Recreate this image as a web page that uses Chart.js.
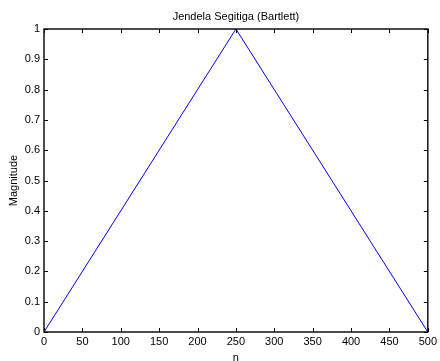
<!DOCTYPE html>
<html>
<head>
<meta charset="utf-8">
<script src="https://cdn.jsdelivr.net/npm/chart.js@4.4.1/dist/chart.umd.min.js"></script>
<style>
    html, body { margin: 0; padding: 0; background: #fff; }
    #wrap { width: 440px; height: 361px; position: relative; }
</style>
</head>
<body>
<div id="wrap"><canvas id="chart"></canvas></div>
<script>
// Bartlett (triangular) window, corners of the triangle
const nValues = [0, 250, 500];
const magnitude = [0, 1, 0];

const xTicks = [0, 50, 100, 150, 200, 250, 300, 350, 400, 450, 500];
const yTicks = [0, 0.1, 0.2, 0.3, 0.4, 0.5, 0.6, 0.7, 0.8, 0.9, 1];

const titleText = 'Jendela Segitiga (Bartlett)';
const xLabel = 'n';
const yLabel = 'Magnitude';

const fontFamily = "Arial, 'Liberation Sans', Helvetica, sans-serif";
Chart.defaults.color = '#000';
Chart.defaults.font.family = fontFamily;
Chart.defaults.font.size = 11;

// matlab style box with inward ticks
const boxTicks = {
    id: 'boxTicks',
    afterDatasetsDraw(chart) {
        const ctx = chart.ctx;
        const ca = chart.chartArea;
        const xs = chart.scales.x;
        const ys = chart.scales.y;
        const len = 4;
        ctx.save();
        ctx.strokeStyle = '#000';
        ctx.lineWidth = 1;
        ctx.beginPath();
        xTicks.forEach(v => {
            const px = Math.round(xs.getPixelForValue(v)) + 0.5;
            ctx.moveTo(px, ca.bottom);
            ctx.lineTo(px, ca.bottom - len);
            ctx.moveTo(px, ca.top);
            ctx.lineTo(px, ca.top + len);
        });
        yTicks.forEach(v => {
            const py = Math.round(ys.getPixelForValue(v)) + 0.5;
            ctx.moveTo(ca.left, py);
            ctx.lineTo(ca.left + len, py);
            ctx.moveTo(ca.right, py);
            ctx.lineTo(ca.right - len, py);
        });
        ctx.stroke();
        ctx.lineWidth = 1.4;
        ctx.strokeRect(ca.left, ca.top, ca.right - ca.left, ca.bottom - ca.top);
        ctx.restore();
    }
};

const chart = new Chart(document.getElementById('chart').getContext('2d'), {
    type: 'scatter',
    data: {
        datasets: [{
            data: nValues.map((n, i) => ({ x: n, y: magnitude[i] })),
            showLine: true,
            borderColor: '#0000ff',
            borderWidth: 1,
            pointRadius: 0,
            fill: false,
            tension: 0
        }]
    },
    options: {
        responsive: true,
        maintainAspectRatio: false,
        animation: false,
        layout: { padding: { left: 0, right: 10, top: 0, bottom: 0 } },
        plugins: {
            legend: { display: false },
            tooltip: { enabled: false }
        },
        scales: {
            x: {
                type: 'linear',
                position: 'bottom',
                min: 0,
                max: 500,
                afterBuildTicks: s => { s.ticks = xTicks.map(v => ({ value: v })); },
                afterFit: s => { s.height = 29; },
                ticks: { padding: 3, maxRotation: 0, autoSkip: false, callback: v => String(v) },
                grid: { display: false, drawTicks: false },
                border: { display: false },
                title: { display: true, text: xLabel, padding: { top: 0, bottom: -4 } }
            },
            x2: {
                type: 'linear',
                position: 'top',
                min: 0,
                max: 500,
                afterFit: s => { s.height = 29; },
                ticks: { display: false },
                grid: { display: false, drawTicks: false },
                border: { display: false },
                title: { display: true, text: titleText, padding: { top: 10, bottom: 0 } }
            },
            y: {
                type: 'linear',
                min: 0,
                max: 1,
                afterBuildTicks: s => { s.ticks = yTicks.map(v => ({ value: v })); },
                afterFit: s => { s.width = 44; },
                ticks: { padding: 4, autoSkip: false, callback: v => String(v) },
                grid: { display: false, drawTicks: false },
                border: { display: false },
                title: { display: true, text: yLabel, padding: { top: 7, bottom: 0 } }
            }
        }
    },
    plugins: [boxTicks]
});
</script>
</body>
</html>
